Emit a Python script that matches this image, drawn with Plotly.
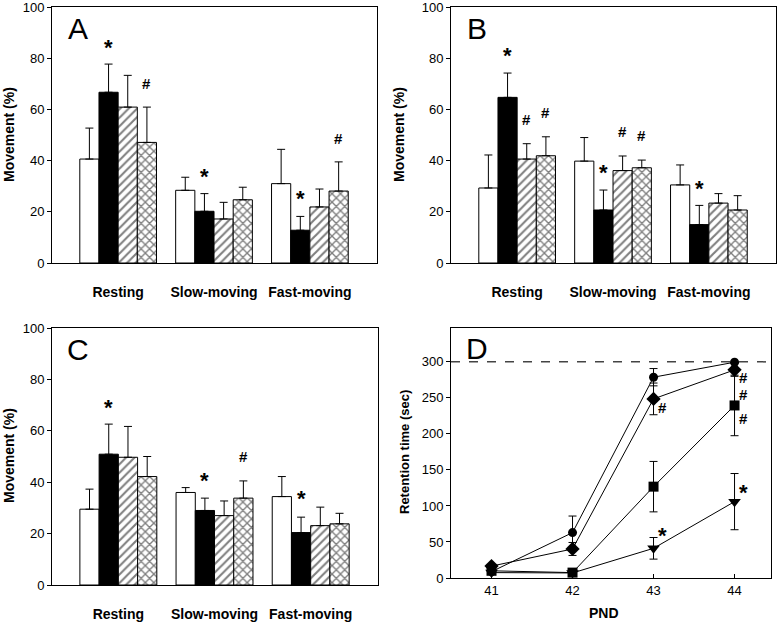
import plotly.graph_objects as go

# ---------------- data ----------------
categories = ["Resting", "Slow-moving", "Fast-moving"]
cat_pos = [0, 1, 2]
conditions = ["Control", "Treated", "Treated+A", "Treated+B"]

# Panel A
A_white = [40.6, 28.4, 31.0]
A_white_se = [12.1, 5.1, 13.4]
A_black = [66.7, 20.2, 12.8]
A_black_se = [11.0, 6.9, 5.4]
A_hatch = [60.9, 17.2, 21.9]
A_hatch_se = [12.4, 6.5, 7.0]
A_cross = [47.1, 24.7, 28.1]
A_cross_se = [13.8, 4.9, 11.4]

# Panel B
B_white = [29.3, 39.8, 30.5]
B_white_se = [12.9, 9.2, 7.8]
B_black = [64.7, 20.7, 15.0]
B_black_se = [9.5, 7.8, 7.5]
B_hatch = [40.6, 36.1, 23.4]
B_hatch_se = [6.0, 5.7, 3.7]
B_cross = [41.9, 37.2, 20.7]
B_cross_se = [7.4, 3.0, 5.6]

# Panel C
C_white = [29.5, 36.0, 34.4]
C_white_se = [7.8, 1.9, 7.8]
C_black = [50.9, 29.0, 20.4]
C_black_se = [11.7, 4.8, 6.0]
C_hatch = [49.7, 27.0, 23.1]
C_hatch_se = [12.0, 5.7, 7.2]
C_cross = [42.2, 33.8, 23.8]
C_cross_se = [7.8, 6.7, 4.1]

# significance marks: (category index, bar index, y, symbol)
A_marks = [(0, 1, 85.9, "*"), (0, 3, 70.3, "#"), (1, 1, 35.2, "*"),
           (2, 1, 26.7, "*"), (2, 3, 48.8, "#")]
B_marks = [(0, 1, 82.7, "*"), (0, 2, 56.0, "#"), (0, 3, 58.6, "#"),
           (1, 1, 37.1, "*"), (1, 2, 51.4, "#"), (1, 3, 49.7, "#"),
           (2, 1, 30.6, "*")]
C_marks = [(0, 1, 70.8, "*"), (1, 1, 42.2, "*"), (1, 3, 50.0, "#"),
           (2, 1, 35.1, "*")]

# Panel D
pnd = [41, 42, 43, 44]
D_circle = [8.8, 63.0, 278.7, 299.5]
D_circle_se = [0, 23.0, 12.0, 0]
D_diamond = [16.5, 40.3, 248.6, 288.9]
D_diamond_se = [0, 9.0, 22.0, 9.0]
D_square = [10.0, 7.5, 126.8, 239.5]
D_square_se = [0, 0, 35.0, 42.0]
D_triangle = [7.5, 7.0, 41.2, 106.0]
D_triangle_se = [0, 0, 15.0, 39.0]
D_cutoff = 300
D_marks = [(43.11, 237, "#"), (44.115, 278.7, "#"), (44.115, 254, "#"),
           (44.115, 221.8, "#"), (43.11, 64.3, "*"), (44.115, 124.5, "*")]

FONT = "Liberation Sans, Arial, sans-serif"

fig = go.Figure()

bar_styles = [
    dict(color="white"),
    dict(color="black"),
    dict(color="white", pattern=dict(shape="/", fgcolor="black", bgcolor="white", size=6, solidity=0.35)),
    dict(color="white", pattern=dict(shape="x", fgcolor="black", bgcolor="white", size=6, solidity=0.4)),
]

panels = [
    ("x", "y", [A_white, A_black, A_hatch, A_cross], [A_white_se, A_black_se, A_hatch_se, A_cross_se], A_marks, "A"),
    ("x2", "y2", [B_white, B_black, B_hatch, B_cross], [B_white_se, B_black_se, B_hatch_se, B_cross_se], B_marks, "B"),
    ("x3", "y3", [C_white, C_black, C_hatch, C_cross], [C_white_se, C_black_se, C_hatch_se, C_cross_se], C_marks, "C"),
]


def mark_font(sym):
    return dict(family=FONT, size=22 if sym == "*" else 15, color="black", weight="bold")


W, H = 778, 622
annotations = []
offsets = [-0.3, -0.1, 0.1, 0.3]
for xa, ya, means, ses, marks, letter in panels:
    for i in range(4):
        st = dict(bar_styles[i])
        st["line"] = dict(color="black", width=1)
        fig.add_trace(go.Bar(
            x=cat_pos, y=means[i], xaxis=xa, yaxis=ya, name=conditions[i],
            marker=st, showlegend=False,
            error_y=dict(type="data", array=ses[i], arrayminus=[0, 0, 0], symmetric=False,
                         color="black", thickness=1, width=4),
        ))
    for g, b, yv, sym in marks:
        annotations.append(dict(
            x=cat_pos[g] + offsets[b], y=yv, xref=xa, yref=ya, text=sym, showarrow=False,
            font=mark_font(sym), yshift=-4 if sym == "*" else 0,
        ))
    annotations.append(dict(
        x=0.08, y=0.915, xref=xa + " domain", yref=ya + " domain", text=letter,
        showarrow=False, xanchor="center", yanchor="middle",
        font=dict(family=FONT, size=30, color="black"),
    ))

# axis titles as annotations (precise placement)
title_font = dict(family=FONT, size=14, color="black", weight="bold")
annotations += [
    dict(x=9 / W, y=1 - 135 / H, xref="paper", yref="paper", text="Movement (%)", textangle=-90,
         showarrow=False, xanchor="center", yanchor="middle", font=title_font),
    dict(x=399 / W, y=1 - 135 / H, xref="paper", yref="paper", text="Movement (%)", textangle=-90,
         showarrow=False, xanchor="center", yanchor="middle", font=title_font),
    dict(x=9 / W, y=1 - 456 / H, xref="paper", yref="paper", text="Movement (%)", textangle=-90,
         showarrow=False, xanchor="center", yanchor="middle", font=title_font),
    dict(x=404 / W, y=1 - 452 / H, xref="paper", yref="paper", text="Retention time (sec)", textangle=-90,
         showarrow=False, xanchor="center", yanchor="middle",
         font=dict(family=FONT, size=13, color="black", weight="bold")),
    dict(x=604 / W, y=1 - 613 / H, xref="paper", yref="paper", text="PND",
         showarrow=False, xanchor="center", yanchor="middle", font=title_font),
]

# Panel D
series = [
    (D_circle, D_circle_se, "circle", 9),
    (D_diamond, D_diamond_se, "diamond", 11),
    (D_square, D_square_se, "square", 10),
    (D_triangle, D_triangle_se, "triangle-down", 11),
]
for ys, se, sym, sz in series:
    fig.add_trace(go.Scatter(
        x=pnd, y=ys, xaxis="x4", yaxis="y4", mode="lines+markers", showlegend=False,
        line=dict(color="black", width=1),
        marker=dict(symbol=sym, size=sz, color="black"),
        error_y=dict(type="data", array=se, color="black", thickness=1, width=4),
    ))
for xv, yv, sym in D_marks:
    annotations.append(dict(
        x=xv, y=yv, xref="x4", yref="y4", text=sym, showarrow=False,
        font=mark_font(sym), yshift=-4 if sym == "*" else 0,
    ))
annotations.append(dict(
    x=0.081, y=0.918, xref="x4 domain", yref="y4 domain", text="D",
    showarrow=False, xanchor="center", yanchor="middle",
    font=dict(family=FONT, size=30, color="black"),
))

shapes = [dict(type="line", xref="x4 domain", x0=0, x1=1, yref="y4", y0=D_cutoff, y1=D_cutoff,
               line=dict(color="#444444", width=1.5, dash="dash"), layer="below")]


def dom(a, b, total):
    return [a / total, b / total]


bar_x_common = dict(
    range=[-0.69, 2.70], tickvals=cat_pos, ticktext=categories, ticks="", automargin=False,
    showline=True, linecolor="black", linewidth=1, mirror=True, showgrid=False, zeroline=False,
    tickfont=dict(family=FONT, size=14, color="black", weight="bold"), ticklabelstandoff=16,
    ticklabeloverflow="allow",
)
bar_y_common = dict(
    range=[0, 100], tickvals=[0, 20, 40, 60, 80, 100], ticks="outside", ticklen=4, automargin=False,
    tickcolor="black", showline=True, linecolor="black", linewidth=1, mirror=True,
    showgrid=False, zeroline=False, tickfont=dict(family=FONT, size=13, color="black"),
    ticklabeloverflow="allow",
)

fig.update_layout(
    width=W, height=H, margin=dict(l=0, r=0, t=0, b=0, autoexpand=False),
    paper_bgcolor="white", plot_bgcolor="white",
    barmode="group", bargap=0.2, bargroupgap=0,
    xaxis=dict(domain=dom(52, 377, W), anchor="y", **bar_x_common),
    yaxis=dict(domain=[1 - 263 / H, 1 - 7 / H], anchor="x", **bar_y_common),
    xaxis2=dict(domain=dom(451, 776, W), anchor="y2", **bar_x_common),
    yaxis2=dict(domain=[1 - 263 / H, 1 - 7 / H], anchor="x2", **bar_y_common),
    xaxis3=dict(domain=dom(52, 378, W), anchor="y3", **bar_x_common),
    yaxis3=dict(domain=[1 - 585 / H, 1 - 328 / H], anchor="x3", **bar_y_common),
    xaxis4=dict(domain=dom(451, 771, W), anchor="y4", range=[40.5, 44.45], automargin=False,
                tickvals=pnd, ticks="inside", ticklen=4, tickcolor="black", ticklabeloverflow="allow",
                showline=True, linecolor="black", linewidth=1, mirror=True, showgrid=False, zeroline=False,
                tickfont=dict(family=FONT, size=13, color="black")),
    yaxis4=dict(domain=[1 - 578 / H, 1 - 328 / H], anchor="x4", range=[0, 347], automargin=False,
                tickvals=[0, 50, 100, 150, 200, 250, 300], ticks="outside", ticklen=4, tickcolor="black",
                ticklabeloverflow="allow",
                showline=True, linecolor="black", linewidth=1, mirror=True, showgrid=False, zeroline=False,
                tickfont=dict(family=FONT, size=13, color="black")),
    annotations=annotations,
    shapes=shapes,
)

fig.write_html("out.html", config={"displayModeBar": False},
               post_script="document.body.style.margin='0';")
